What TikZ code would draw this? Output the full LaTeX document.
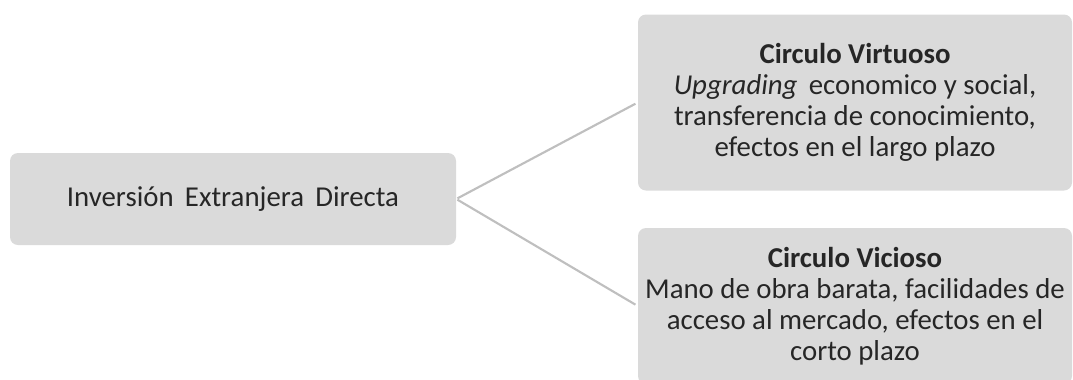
\documentclass[tikz,border=0pt]{standalone}
\usepackage{fontspec}
\setmainfont{Carlito}
\usetikzlibrary{positioning, calc}
\definecolor{boxgray}{HTML}{DADADA}
\definecolor{linegray}{HTML}{BFBFBF}
\definecolor{textgray}{HTML}{262626}
\tikzstyle{Box} = [
rectangle, rounded corners=6pt,
fill=boxgray, text=textgray,
align=center, inner sep=0pt,
font=\fontsize{21.6}{23.2}\selectfont]
\tikzstyle{Link} = [
draw=linegray, line width=1.6pt,
shorten <= 1pt, shorten >= 2pt]

\begin{document}
\begin{tikzpicture}[x=0.75pt, y=-0.75pt]
    \useasboundingbox (0,0) rectangle (1073,379);
    \node [Box, minimum width=446*0.75pt, minimum height=92*0.75pt] (1) at (233,199)
        {Inversión\, Extranjera\, Directa};
    \node [Box, minimum width=434*0.75pt, minimum height=176*0.75pt] (2) at (855,102.5)
        {\textbf{Circulo Virtuoso}\\
         \textit{Upgrading}\, economico y social,\\
         transferencia de conocimiento,\\
         efectos en el largo plazo};
    \node [Box, minimum width=434*0.75pt, minimum height=156*0.75pt] (3) at (855,306)
        {\textbf{Circulo Vicioso}\\
         Mano de obra barata, facilidades de\\
         acceso al mercado, efectos en el\\
         corto plazo};

    \draw[Link] (1.east) -- (2.west);
    \draw[Link] (1.east) -- (3.west);
\end{tikzpicture}
\end{document}
